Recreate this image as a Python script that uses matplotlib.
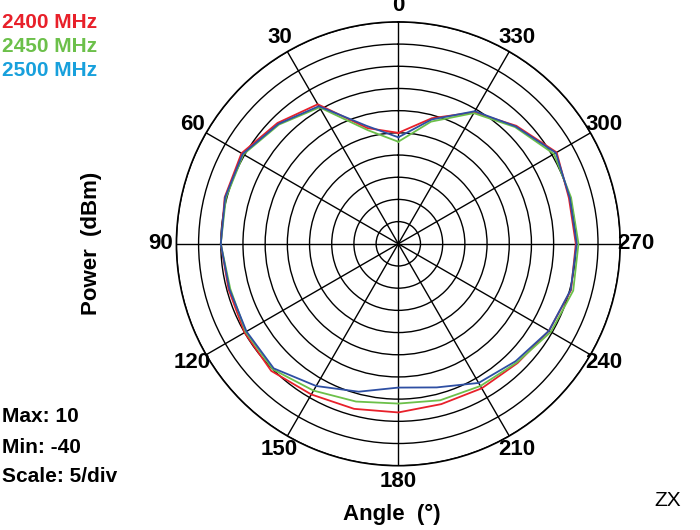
import numpy as np
import matplotlib
matplotlib.use("Agg")
import matplotlib.pyplot as plt

angles_deg = [0,15,30,45,60,75,90,105,120,135,150,165,180,195,210,225,240,255,270,285,300,315,330,345]
p2400 = [-15,-13,-3.7,-1.5,0.8,0.5,0,-0.4,0,0.5,-0.8,-1.5,-2,-2.6,-2.4,-2,-0.8,0.3,0,-0.2,1.2,-2.4,-5.8,-10.7]
p2450 = [-17,-13.5,-4.5,-2,0.3,0.2,0,-0.8,-0.3,0,-1.8,-3.2,-4,-3.5,-3,-2.2,-0.3,0.8,0.6,0.3,0.5,-2.8,-6,-11.5]
p2500 = [-16,-12.5,-4.2,-1.8,0.5,0.4,0,-0.6,-0.5,-0.3,-3,-5.5,-7.6,-6.5,-3.8,-2.6,-0.8,0.2,0.2,0,1,-2.6,-5.5,-11]
tick_angles = [0,30,60,90,120,150,180,210,240,270,300,330]
rmin, rmax, rstep = -40, 10, 5

fig = plt.figure(figsize=(7,5.3), dpi=100)
ax = fig.add_axes([0.569-0.317, 0.540-0.419, 0.634, 0.838], projection='polar')
ax.set_theta_zero_location('N')
ax.set_theta_direction(1)
ax.set_ylim(rmin, rmax)
ax.set_yticks(np.arange(rmin+rstep, rmax+0.1, rstep))
ax.set_yticklabels([])
ax.set_xticks(np.radians(tick_angles))
ax.set_xticklabels([str(a) for a in tick_angles], fontsize=16, fontweight='bold', family='Liberation Sans')
ax.tick_params(axis='x', pad=1)
ax.grid(True, color='black', linewidth=1)
ax.spines['polar'].set_linewidth(1.2)

for vals, c in [(p2400,'#e8202a'),(p2450,'#6cc04a'),(p2500,'#2e4fa3')]:
    th = np.radians(angles_deg + [angles_deg[0]])
    ax.plot(th, vals + [vals[0]], color=c, linewidth=1.3)

f = dict(family='Liberation Sans', fontweight='bold')
fig.text(0.003, 0.975, '2400 MHz', color='#e8202a', fontsize=15, va='top', **f)
fig.text(0.003, 0.930, '2450 MHz', color='#6cc04a', fontsize=15, va='top', **f)
fig.text(0.003, 0.885, '2500 MHz', color='#18a0dc', fontsize=15, va='top', **f)
fig.text(0.13, 0.54, 'Power  (dBm)', rotation=90, fontsize=16, ha='center', va='center', **f)
fig.text(0.003, 0.215, 'Max: 10', fontsize=15, va='center', **f)
fig.text(0.003, 0.155, 'Min: -40', fontsize=15, va='center', **f)
fig.text(0.003, 0.100, 'Scale: 5/div', fontsize=15, va='center', **f)
fig.text(0.56, 0.03, 'Angle  (°)', fontsize=16, ha='center', va='center', **f)
fig.text(0.935, 0.055, 'ZX', fontsize=15, va='center', family='Liberation Sans')
fig.savefig('out.png', dpi=100)
